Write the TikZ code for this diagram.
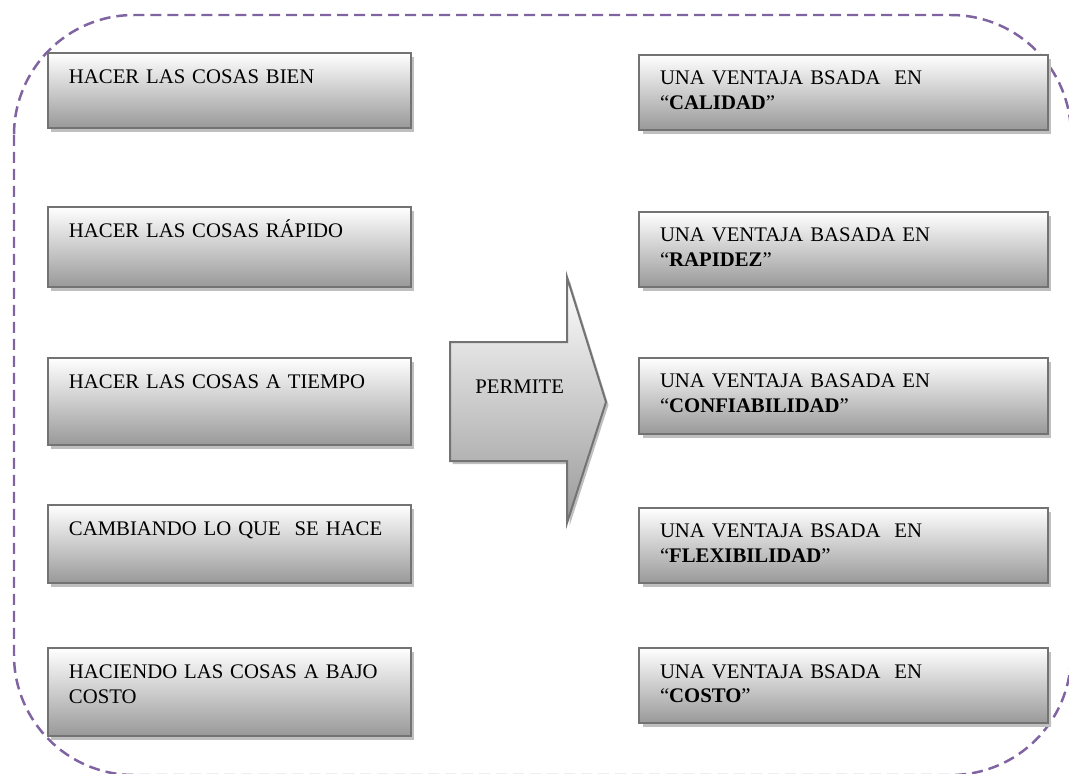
\documentclass[tikz,border=0pt]{standalone}
\usepackage{fontspec}
\setmainfont{Liberation Serif}
\usetikzlibrary{shadows}
\definecolor{lila}{HTML}{8064A2}

\begin{document}
\begin{tikzpicture}[
    x=0.02cm, y=-0.02cm,
    box/.style={rectangle, draw=black!55, line width=0.04cm, top color=white, bottom color=black!40,
        drop shadow={shadow xshift=0.07cm, shadow yshift=-0.08cm, fill=black!25, opacity=1},
        anchor=north west, align=left, inner xsep=0.42cm, inner ysep=0pt,
        font=\fontsize{11.8}{14.2}\selectfont},
    izq/.style={box, text width=6.42cm, text height=0.62cm, text depth=#1},
    der/.style={box, text width=7.34cm, text height=0.6cm, text depth=#1},
    marco/.style={draw=lila, line width=0.05cm, dash pattern=on 0.22cm off 0.12cm, rounded corners=2.4cm},
    flecha/.style={draw=black!55, line width=0.04cm, top color=white, bottom color=black!40,
        drop shadow={shadow xshift=0.05cm, shadow yshift=-0.06cm, fill=black!25, opacity=1}}
]
    \clip (0,0) rectangle (1069,774);

    % Marco
    \draw[marco] (14,15) rectangle (1071,775);

    % Acciones
    \node[izq=0.88cm] (hacerbien) at (47,52) {HACER LAS COSAS BIEN};
    \node[izq=0.98cm] (hacerrapido) at (47,206) {HACER LAS COSAS RÁPIDO};
    \node[izq=1.12cm] (hacertiempo) at (47,357) {HACER LAS COSAS A TIEMPO};
    \node[izq=0.94cm] (cambiando) at (47,504) {CAMBIANDO LO QUE~ SE HACE};
    \node[izq=1.14cm] (haciendo) at (47,647) {HACIENDO LAS COSAS A BAJO\\COSTO};

    % Flecha
    \path[flecha] (450,342) -- (567,342) -- (567,277) -- (606,402) -- (567,523) -- (567,461) -- (450,461) -- cycle;
    \node[anchor=base west, inner sep=0pt, font=\fontsize{11.8}{14.2}\selectfont] (permite) at (475,393) {PERMITE};

    % Ventajas
    \node[der=0.9cm] (calidad) at (638,54) {UNA VENTAJA BSADA~ EN\\“\textbf{CALIDAD}”};
    \node[der=0.9cm] (rapidez) at (638,211) {UNA VENTAJA BASADA EN\\“\textbf{RAPIDEZ}”};
    \node[der=0.92cm] (confiabilidad) at (638,357) {UNA VENTAJA BASADA EN\\“\textbf{CONFIABILIDAD}”};
    \node[der=0.9cm] (flexibilidad) at (638,507) {UNA VENTAJA BSADA~ EN\\“\textbf{FLEXIBILIDAD}”};
    \node[der=0.9cm] (costo) at (638,647) {UNA VENTAJA BSADA~ EN\\“\textbf{COSTO}”};
\end{tikzpicture}
\end{document}
